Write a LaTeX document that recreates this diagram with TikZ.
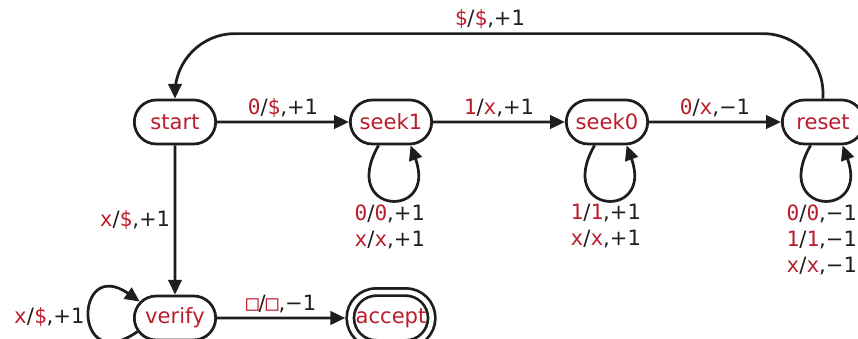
\documentclass[tikz,border=0pt]{standalone}
\usepackage{fontspec}
\setmainfont{DejaVu Sans}
\newfontfamily\monofont{DejaVu Sans Mono}
\usetikzlibrary{positioning,shapes.misc,arrows.meta}
\definecolor{simbolo}{RGB}{185,28,42}
\definecolor{tratto}{RGB}{30,30,30}
\newcommand{\sym}[1]{{\color{simbolo}\monofont #1}}
\tikzset{
  stato/.style={rounded rectangle, draw, text=simbolo, minimum width=2.175cm, minimum height=1.1cm, inner sep=2pt},
  finale/.style={stato, double, double distance=3.2pt, minimum height=1.3cm, outer sep=3.6pt},
  etichetta/.style={inner sep=2.5pt},
  cappio/.style={out=-120, in=-70, distance=2cm},
}
\begin{document}
\begin{tikzpicture}[line width=1.95pt, color=tratto, font=\fontsize{15}{18.5}\selectfont,
    >={Triangle[length=10.5pt,width=9.5pt]}, node distance=5.4cm, on grid]
    \useasboundingbox (0,0) rectangle (21.45,8.45);
    %stati
    \node[stato] (start) at (4.375,5.4) {start};
    \node[stato, right=of start] (seek1) {seek1};
    \node[stato, right=of seek1] (seek0) {seek0};
    \node[stato, right=of seek0] (reset) {reset};
    \node[stato, below=4.9cm of start] (verify) {verify};
    \node[finale, right=of verify] (accept) {accept};
    %transizioni
    \draw[->] (start) -- node[above, etichetta] {\sym{0}/\sym{\$},+1} (seek1);
    \draw[->] (seek1) -- node[above, etichetta] {\sym{1}/\sym{x},+1} (seek0);
    \draw[->] (seek0) -- node[above, etichetta] {\sym{0}/\sym{x},−1} (reset);
    \draw[->] (start) -- node[left, etichetta] {\sym{x}/\sym{\$},+1} (verify);
    \draw[->] (verify) -- node[above, etichetta] {\sym{□}/\sym{□},−1} (accept);
    \draw[->, rounded corners=1.5cm] (reset.north) -- ++(0,1.625) -| node[pos=0.257, above, etichetta] {\sym{\$}/\sym{\$},+1} (start.north);
    %cappi
    \draw[->] (seek1.-118) to[cappio] node[below, align=center, etichetta] {\sym{0}/\sym{0},+1\\\sym{x}/\sym{x},+1} (seek1.-50);
    \draw[->] (seek0.-118) to[cappio] node[below, align=center, etichetta] {\sym{1}/\sym{1},+1\\\sym{x}/\sym{x},+1} (seek0.-50);
    \draw[->] (reset.-118) to[cappio] node[below, align=center, etichetta] {\sym{0}/\sym{0},−1\\\sym{1}/\sym{1},−1\\\sym{x}/\sym{x},−1} (reset.-50);
    \draw[->] (verify.-160) to[out=-145, in=145, distance=2cm] node[left, etichetta] {\sym{x}/\sym{\$},+1} (verify.155);
\end{tikzpicture}
\end{document}
